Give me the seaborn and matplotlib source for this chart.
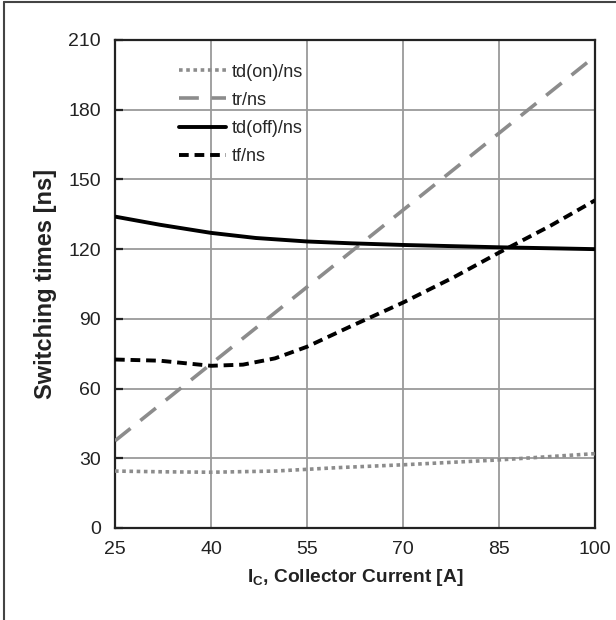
import matplotlib
matplotlib.use("Agg")
import matplotlib.pyplot as plt
import seaborn as sns
import pandas as pd
from matplotlib.lines import Line2D

# Switching times vs collector current
ic_on = [25, 32, 40, 50, 60, 70, 85, 100]
td_on = [24.5, 24.2, 24.0, 24.5, 26.0, 27.2, 29.3, 32.0]

ic_tr = [25, 100]
tr = [37.5, 203.0]

ic_off = [25, 32, 40, 47, 55, 62, 70, 85, 100]
td_off = [134.0, 130.5, 127.0, 124.8, 123.3, 122.5, 121.8, 120.8, 120.0]

ic_tf = [25, 32, 40, 45, 50, 55, 62, 70, 78, 85, 93, 100]
tf = [72.5, 72.0, 69.8, 70.3, 73.0, 78.0, 87.0, 97.0, 108.0, 118.5, 130.0, 141.0]

x_ticks = [25, 40, 55, 70, 85, 100]
y_ticks = [0, 30, 60, 90, 120, 150, 180, 210]

sns.set_theme(style="white")
plt.rcParams["font.family"] = ["Liberation Sans", "DejaVu Sans"]

fig = plt.figure(figsize=(6.16, 6.20), dpi=100)
ax = fig.add_axes([115 / 616, 92 / 620, 480 / 616, 488 / 620])

series = [
    ("td(on)/ns", ic_on, td_on, dict(color="#8c8c8c", lw=2.6, dashes=(1.0, 1.0))),
    ("tr/ns", ic_tr, tr, dict(color="#8c8c8c", lw=2.6, dashes=(5.5, 3.5))),
    ("td(off)/ns", ic_off, td_off, dict(color="black", lw=2.8, dashes=(None, None))),
    ("tf/ns", ic_tf, tf, dict(color="black", lw=2.8, dashes=(2.5, 1.5))),
]

handles = []
for name, xs, ys, st in series:
    df = pd.DataFrame({"Ic": xs, "t": ys})
    sns.lineplot(data=df, x="Ic", y="t", ax=ax, color=st["color"], linewidth=st["lw"],
                 estimator=None, sort=True, zorder=3)
    line = ax.lines[-1]
    if st["dashes"][0] is not None:
        line.set_dashes(st["dashes"])
    line.set_solid_capstyle("butt")
    line.set_dash_capstyle("butt")
    h = Line2D([], [], color=st["color"], lw=st["lw"])
    if st["dashes"][0] is not None:
        h.set_dashes(st["dashes"])
    handles.append((h, name))

ax.set_xlim(25, 100)
ax.set_ylim(0, 210)
ax.set_xticks(x_ticks)
ax.set_yticks(y_ticks)
ax.grid(True, color="#9a9a9a", linewidth=1.3)
ax.set_axisbelow(True)
for s in ax.spines.values():
    s.set_visible(True)
    s.set_color("#222222")
    s.set_linewidth(1.6)
ax.tick_params(axis="both", labelsize=14, colors="#222222", length=0, pad=9)
ax.tick_params(axis="y", direction="in", length=6, width=1.6, left=True, pad=10)
ax.set_xlabel("I$_\\mathregular{C}$, Collector Current [A]", fontsize=13.8,
              fontweight="bold", color="#222222", labelpad=7)
ax.set_ylabel("Switching times [ns]", fontsize=17, fontweight="bold",
              color="#222222", labelpad=8)

leg = ax.legend([h for h, _ in handles], [n for _, n in handles], loc="upper left",
                bbox_to_anchor=(0.10, 0.985), frameon=False, fontsize=13,
                handlelength=2.6, handletextpad=0.3, labelspacing=0.62)

# figure frame on the top and left edges
fig.add_artist(Line2D([4 / 616, 4 / 616], [0, 1 - 2 / 620], transform=fig.transFigure,
                      color="#444444", lw=1.5))
fig.add_artist(Line2D([4 / 616, 1], [1 - 2 / 620, 1 - 2 / 620], transform=fig.transFigure,
                      color="#444444", lw=1.5))

fig.savefig("out.png", dpi=100)
